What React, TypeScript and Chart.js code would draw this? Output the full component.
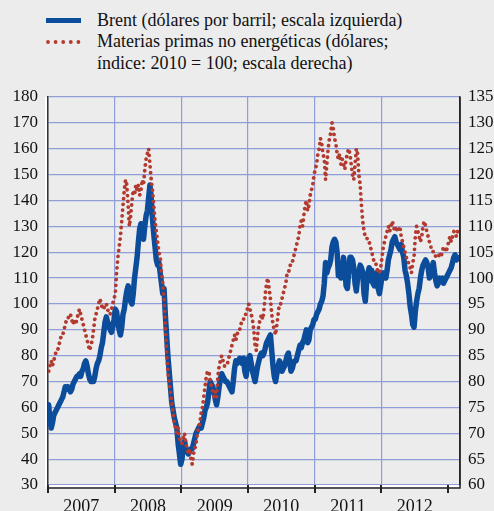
import React, { useEffect, useRef } from "react";
import { Chart, registerables } from "chart.js";

Chart.register(...registerables);

const years = ["2007", "2008", "2009", "2010", "2011", "2012"];

// Brent, USD per barrel (weekly, left scale)
const brent2007 = [61,55,52,54, 57,58,59,60, 61,62,63,64,66, 68,67,68,67, 66,67,69,70, 71,72,72,73,72, 74,75,77,78, 76,73,71,70,70, 70,72,75,77, 78,80,83,85, 89,93,95,93,92, 90,89,91,94];
const brent2008 = [98,97,93,90, 88,91,96,98, 102,105,107,104,101, 100,104,110,114, 118,124,129,131, 127,125,130,134,136, 141,146,141,133, 127,122,117,115,116, 112,108,104,106, 96,88,80,74, 68,62,59,56,54, 52,46,42,38];
const brent2009 = [40,45,47,44, 43,42,43,44, 44,46,48,50,51, 52,53,52,54, 56,59,60,62, 66,70,69,68,66, 63,61,64,68, 71,73,72,71,70, 70,69,68,67, 66,70,75,78, 77,78,79,78,77, 79,74,72,76];
const brent2010 = [79,80,77,74, 72,70,73,76, 78,80,81,80,81, 83,85,86,87, 88,82,76,72, 70,73,76,78,77, 74,75,76,78, 80,81,78,74,75, 77,78,78,80, 82,84,83,85, 86,88,90,85,86, 90,91,92,94];
const brent2011 = [94,96,97,98, 100,101,103,108, 116,112,114,115,117, 122,124,125,124, 120,111,112,110, 113,118,114,107,106, 112,118,118,117, 114,108,105,110,112, 115,114,112,104, 101,108,112,114, 109,113,108,107,110, 112,106,104,107];
const brent2012 = [111,112,111,110, 113,117,119,121, 124,125,126,124,123, 122,121,123,120, 118,113,111,108, 104,99,96,92,91, 97,101,104,106, 110,113,115,116,117, 116,114,110,111, 114,116,112,109, 107,108,110,109,110, 108,109,110,111];
const brent2013 = [112,113,114,116,118,119,117,118];

// Non-energy commodities, USD index 2010 = 100 (weekly, right scale)
const comm2007 = [82,83,84,83, 84,85,86,86, 87,88,89,89,90, 91,92,92,93, 93,92,91,92, 91,92,93,94,93, 92,91,90,89, 88,87,86,87,88, 90,92,93,94, 95,96,95,94, 94,95,95,94,93, 93,94,95,96];
const comm2008 = [97,101,104,106, 108,111,114,117, 119,118,114,110,112, 115,117,116,118, 117,118,116,117, 119,118,121,123,124, 125,122,119,117, 114,111,109,107,105, 104,101,99,96, 91,86,82,80, 78,76,74,72,71, 70,71,69,68];
const comm2009 = [68,69,70,68, 67,66,67,65, 64,66,67,68,70, 71,72,74,75, 77,79,81,82, 82,80,79,78,77, 78,77,81,83, 84,85,84,83,83, 83,84,85,86, 87,88,89,88, 89,90,90,91,92, 92,93,93,94];
const comm2010 = [95,94,93,92, 90,87,86,89, 91,92,93,92,94, 97,99,100,98, 96,93,91,90, 89,91,93,95,95, 96,97,98,99, 101,101,102,103,103, 104,105,106,107, 108,110,111,110, 112,114,115,113,114, 116,117,118,120];
const comm2011 = [121,122,124,125, 127,126,124,123, 119,122,125,127,128, 130,129,127,126, 124,123,124,122, 123,122,121,123,124, 125,124,122,120, 119,122,125,124,120, 118,114,111,109, 108,108,107,107, 106,105,104,103,103, 102,101,101,102];
const comm2012 = [104,106,107,108, 109,110,109,110, 111,110,109,110,109, 109,110,108,107, 106,105,104,103, 103,102,101,103,104, 108,110,109,108, 107,108,110,111,110, 109,108,107,106, 106,105,105,104, 104,104,105,104,105, 106,106,105,106];
const comm2013 = [107,108,107,108,109,109,108,109];

const leftTicks = { min: 30, max: 180, step: 10 };
const rightTicks = { min: 60, max: 135, step: 5 };

const legendBrent = "Brent (dólares por barril; escala izquierda)";
const legendComm1 = "Materias primas no energéticas (dólares;";
const legendComm2 = "índice: 2010 = 100; escala derecha)";

const BLUE = "#0b4c9b";
const RED = "#b23a2f";
const GRID = "#8f9dd8";
const BG = "#ececec";
const FONT = "'Liberation Serif', 'Times New Roman', serif";

function weekly(year: number, arr: number[]) {
  return arr.map((v, k) => ({ x: year + (k + 0.5) / 52, y: v }));
}

const brentSeries = [
  ...weekly(2007, brent2007), ...weekly(2008, brent2008), ...weekly(2009, brent2009),
  ...weekly(2010, brent2010), ...weekly(2011, brent2011), ...weekly(2012, brent2012),
  ...weekly(2013, brent2013),
];
const commSeries = [
  ...weekly(2007, comm2007), ...weekly(2008, comm2008), ...weekly(2009, comm2009),
  ...weekly(2010, comm2010), ...weekly(2011, comm2011), ...weekly(2012, comm2012),
  ...weekly(2013, comm2013),
];

const axisPlugin = {
  id: "axisDeco",
  afterDraw(chart: any) {
    const { ctx, chartArea } = chart;
    const xs = chart.scales.x;
    ctx.save();
    ctx.strokeStyle = "#ffffff";
    ctx.lineWidth = 2;
    ctx.beginPath();
    ctx.moveTo(chartArea.left - 2, chartArea.top);
    ctx.lineTo(chartArea.left - 2, chartArea.bottom + 1);
    ctx.lineTo(chartArea.right, chartArea.bottom + 1);
    ctx.stroke();
    ctx.strokeStyle = "#222";
    ctx.lineWidth = 1.5;
    ctx.beginPath();
    ctx.moveTo(chartArea.left, chartArea.bottom + 3);
    ctx.lineTo(chartArea.right, chartArea.bottom + 3);
    ctx.lineTo(chartArea.right, chartArea.top);
    ctx.stroke();
    ctx.lineWidth = 2;
    for (let yr = 2007; yr <= 2013; yr++) {
      const px = Math.round(xs.getPixelForValue(yr));
      ctx.beginPath();
      ctx.moveTo(px, chartArea.bottom);
      ctx.lineTo(px, chartArea.bottom + 8);
      ctx.stroke();
    }
    ctx.fillStyle = "#111";
    ctx.font = `18px ${FONT}`;
    ctx.textAlign = "center";
    ctx.textBaseline = "alphabetic";
    years.forEach((label) => {
      const y = Number(label);
      const px = xs.getPixelForValue(y + 0.5);
      ctx.fillText(label, px, 512);
    });
    ctx.restore();
  },
};

export default function App() {
  const ref = useRef<HTMLCanvasElement | null>(null);

  useEffect(() => {
    document.body.style.margin = "0";
    const canvas = ref.current;
    if (!canvas) return;
    const chart = new Chart(canvas, {
      type: "line",
      data: {
        datasets: [
          {
            label: legendComm1,
            data: commSeries,
            yAxisID: "y1",
            borderColor: RED,
            borderWidth: 3.8,
            borderDash: [0.01, 5.8],
            borderCapStyle: "round",
            borderJoinStyle: "round",
            pointRadius: 0,
            tension: 0,
            fill: false,
          } as any,
          {
            label: legendBrent,
            data: brentSeries,
            yAxisID: "y",
            borderColor: BLUE,
            borderWidth: 5.5,
            borderCapStyle: "round",
            borderJoinStyle: "round",
            pointRadius: 0,
            tension: 0,
            fill: false,
          } as any,
        ],
      },
      options: {
        responsive: false,
        animation: false,
        devicePixelRatio: 1,
        layout: { padding: { top: 97, left: 0, right: 0, bottom: 0 } },
        plugins: { legend: { display: false }, tooltip: { enabled: false } },
        scales: {
          x: {
            type: "linear",
            min: 2007,
            max: 2013.18,
            afterBuildTicks: (s: any) => {
              s.ticks = s.ticks.filter((t: any) => Number.isInteger(t.value));
            },
            afterFit: (s: any) => {
              s.height = 26;
            },
            ticks: { stepSize: 1, display: false },
            grid: { color: GRID, lineWidth: 1.2, drawTicks: false },
            border: { display: false },
          },
          y: {
            position: "left",
            min: leftTicks.min,
            max: leftTicks.max,
            afterFit: (s: any) => {
              s.width = 48;
            },
            ticks: {
              stepSize: leftTicks.step,
              padding: 10,
              color: "#111",
              font: { family: FONT, size: 17 },
            },
            grid: { color: GRID, lineWidth: 1.2, drawTicks: false },
            border: { display: true, color: "#333", width: 1.5 },
          },
          y1: {
            position: "right",
            min: rightTicks.min,
            max: rightTicks.max,
            afterFit: (s: any) => {
              s.width = 34;
            },
            ticks: {
              stepSize: rightTicks.step,
              padding: 8,
              color: "#111",
              font: { family: FONT, size: 17 },
            },
            grid: { display: false, drawTicks: false },
            border: { display: true, color: "#333", width: 1.5 },
          },
        },
      },
      plugins: [axisPlugin],
    } as any);
    return () => chart.destroy();
  }, []);

  const textStyle: React.CSSProperties = {
    position: "absolute",
    left: 97,
    fontFamily: FONT,
    fontSize: 18,
    lineHeight: "21.5px",
    color: "#111",
    whiteSpace: "nowrap",
  };

  return (
    <div style={{ position: "relative", width: 494, height: 511, background: BG, overflow: "hidden" }}>
      <div style={{ position: "absolute", left: 46, top: 18, width: 35, height: 5, background: BLUE }} />
      <svg style={{ position: "absolute", left: 44, top: 38 }} width={40} height={8}>
        {[0, 1, 2, 3, 4].map((i) => (
          <circle key={i} cx={4 + i * 7.6} cy={4} r={1.9} fill={RED} />
        ))}
      </svg>
      <div style={{ ...textStyle, top: 9.5 }}>{legendBrent}</div>
      <div style={{ ...textStyle, top: 31 }}>{legendComm1}</div>
      <div style={{ ...textStyle, top: 52.5 }}>{legendComm2}</div>
      <canvas ref={ref} width={494} height={511} style={{ position: "absolute", left: 0, top: 0 }} />
    </div>
  );
}
